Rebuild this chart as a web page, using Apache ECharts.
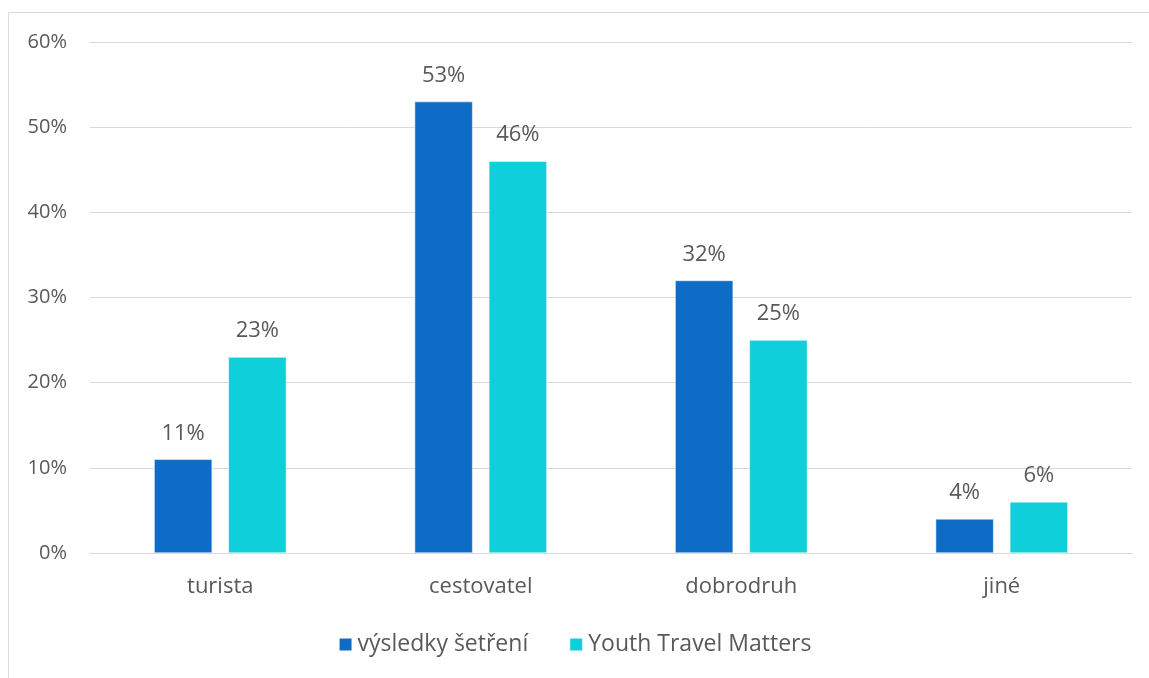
<!DOCTYPE html>
<html>
<head>
<meta charset="utf-8">
<script src="https://cdn.jsdelivr.net/npm/echarts@6/dist/echarts.min.js"></script>
<style>
  html, body { margin: 0; padding: 0; background: #fff; }
  #chart { width: 1149px; height: 678px; }
</style>
</head>
<body>
<div id="chart"></div>
<script>
const categories = ['turista', 'cestovatel', 'dobrodruh', 'jiné']
const surveyValues = [11, 53, 32, 4]
const ytmValues = [23, 46, 25, 6]
const seriesNames = ['výsledky šetření', 'Youth Travel Matters']

const font = '"Open Sans", "Noto Sans", sans-serif'
const textColor = '#595959'

const chart = echarts.init(document.getElementById('chart'))

const labelStyle = {
  show: true,
  position: 'top',
  distance: 15,
  formatter: p => p.value + '%',
  color: textColor,
  fontSize: 22,
  fontFamily: font,
}

chart.setOption({
  animation: false,
  graphic: [{
    type: 'rect',
    shape: { x: 8.5, y: 12.5, width: 1160, height: 700 },
    style: { fill: 'none', stroke: '#d9d9d9', lineWidth: 1 },
    silent: true,
  }],
  grid: { left: 90, right: 17, top: 42, bottom: 125 },
  legend: {
    bottom: 17,
    left: 'center',
    itemWidth: 14,
    itemHeight: 14,
    itemGap: 40,
    icon: 'rect',
    textStyle: { color: textColor, fontSize: 23, fontFamily: font },
    data: seriesNames,
  },
  xAxis: {
    type: 'category',
    data: categories,
    axisLine: { lineStyle: { color: '#d9d9d9', width: 1 } },
    axisTick: { show: false },
    axisLabel: { color: textColor, fontSize: 22, fontFamily: font, margin: 23 },
  },
  yAxis: {
    type: 'value',
    min: 0,
    max: 60,
    interval: 10,
    axisLabel: {
      formatter: v => v + '%',
      color: textColor,
      fontSize: 20,
      fontFamily: font,
      margin: 23,
    },
    axisLine: { show: false },
    axisTick: { show: false },
    splitLine: { lineStyle: { color: '#d9d9d9', width: 1 } },
  },
  series: [
    {
      name: seriesNames[0],
      type: 'bar',
      data: surveyValues,
      barWidth: 58,
      barGap: '28%',
      itemStyle: { color: '#0f6cc6', borderColor: '#ffffff', borderWidth: 0.5 },
      label: labelStyle,
    },
    {
      name: seriesNames[1],
      type: 'bar',
      data: ytmValues,
      barWidth: 58,
      barGap: '28%',
      itemStyle: { color: '#0ecfda', borderColor: '#ffffff', borderWidth: 0.5 },
      label: labelStyle,
    },
  ],
})
</script>
</body>
</html>
